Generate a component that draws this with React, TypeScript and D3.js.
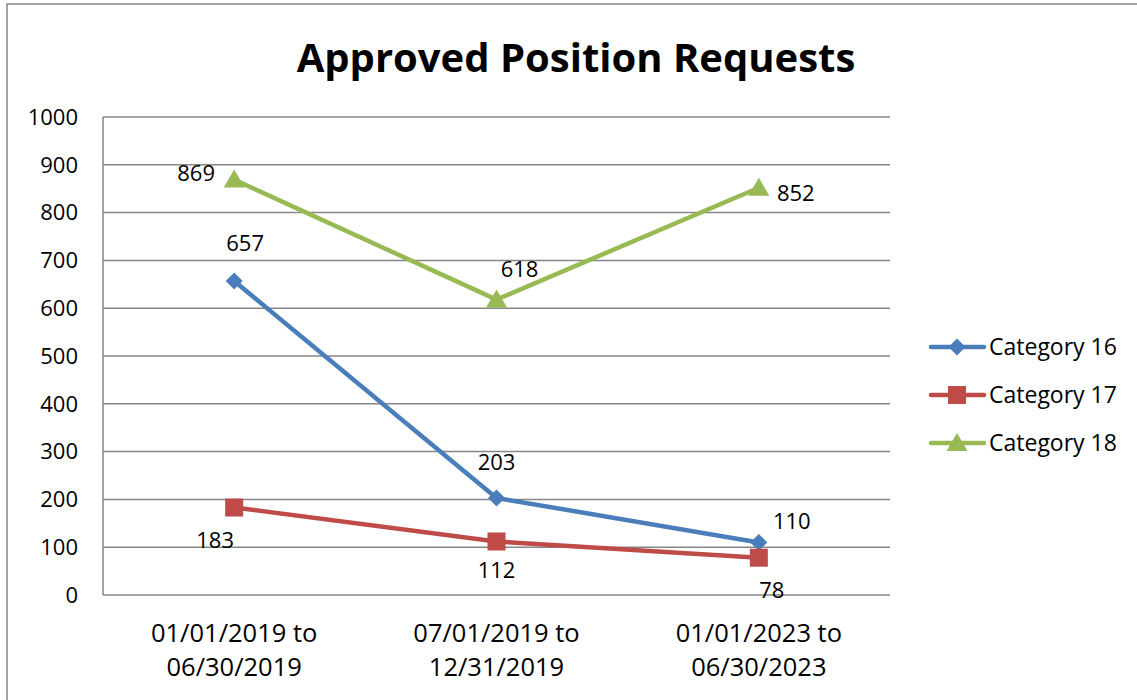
import React from "react";
import * as d3 from "d3";

const categories = [
  ["01/01/2019 to", "06/30/2019"],
  ["07/01/2019 to", "12/31/2019"],
  ["01/01/2023 to", "06/30/2023"],
];
const seriesNames = ["Category 16", "Category 17", "Category 18"];
const category16 = [657, 203, 110];
const category17 = [183, 112, 78];
const category18 = [869, 618, 852];
const yTicks = [0, 100, 200, 300, 400, 500, 600, 700, 800, 900, 1000];

const seriesValues = [category16, category17, category18];
const colors = ["#4A7EBB", "#BE4B48", "#98B954"];
const markers = ["diamond", "square", "triangle"];
// label offsets (dx, dy) relative to each point
const labelOffsets = [
  [[11, -38], [0, -36], [33, -21]],
  [[-19, 33], [0, 29], [13, 33]],
  [[-38, -6], [23, -30], [37, 6]],
];

const W = 1137, H = 700;
const plot = { left: 103, right: 890, top: 117, bottom: 595 };
const font = "'Open Sans', 'Noto Sans', sans-serif";

function Marker({ type, x, y, color }: { type: string; x: number; y: number; color: string }) {
  if (type === "diamond") {
    const s = 8.5;
    return <path d={`M${x},${y - s}L${x + s},${y}L${x},${y + s}L${x - s},${y}Z`} fill={color} />;
  }
  if (type === "square") {
    const s = 9;
    return <rect x={x - s} y={y - s} width={2 * s} height={2 * s} fill={color} />;
  }
  const s = 10;
  return <path d={`M${x},${y - s}L${x + s * 1.05},${y + s * 0.8}L${x - s * 1.05},${y + s * 0.8}Z`} fill={color} />;
}

export default function App() {
  const x = d3.scalePoint<number>().domain([0, 1, 2]).range([plot.left, plot.right]).padding(0.5);
  const y = d3.scaleLinear().domain([0, 1000]).range([plot.bottom, plot.top]);
  const line = d3.line<number>().x((_, i) => x(i)!).y((d) => y(d));

  return (
    <svg width={W} height={H} style={{ position: "absolute", left: 0, top: 0 }}>
      <rect x={0} y={0} width={W} height={H} fill="#fff" />
      <rect x={7} y={4} width={W + 10} height={H + 10} fill="none" stroke="#868686" strokeWidth={1.5} />
      <text x={576} y={72} textAnchor="middle" fontFamily={font} fontWeight="bold" fontSize={40} fill="#000">
        Approved Position Requests
      </text>
      {yTicks.map((t) => (
        <g key={t}>
          <line x1={plot.left} x2={plot.right} y1={y(t)} y2={y(t)} stroke="#868686" strokeWidth={1.5} />
          <text x={78} y={y(t)} dy="0.35em" textAnchor="end" fontFamily={font} fontSize={22} fill="#000">
            {t}
          </text>
        </g>
      ))}
      <line x1={plot.left} x2={plot.left} y1={plot.top} y2={plot.bottom} stroke="#868686" strokeWidth={1.5} />
      {categories.map((c, i) => (
        <text key={i} x={x(i)} y={642} textAnchor="middle" fontFamily={font} fontSize={25.5} fill="#000">
          <tspan x={x(i)}>{c[0]}</tspan>
          <tspan x={x(i)} dy={34}>{c[1]}</tspan>
        </text>
      ))}
      {seriesValues.map((vals, s) => (
        <g key={s}>
          <path d={line(vals)!} fill="none" stroke={colors[s]} strokeWidth={4.5} strokeLinejoin="round" />
          {vals.map((v, i) => (
            <Marker key={i} type={markers[s]} x={x(i)!} y={y(v)} color={colors[s]} />
          ))}
        </g>
      ))}
      {seriesValues.map((vals, s) =>
        vals.map((v, i) => (
          <text
            key={`${s}-${i}`}
            x={x(i)! + labelOffsets[s][i][0]}
            y={y(v) + labelOffsets[s][i][1]}
            dy="0.35em"
            textAnchor="middle"
            fontFamily={font}
            fontSize={22}
            fill="#000"
          >
            {v}
          </text>
        ))
      )}
      {seriesNames.map((n, s) => {
        const ly = 347 + s * 48;
        return (
          <g key={n}>
            <line x1={931} x2={984} y1={ly} y2={ly} stroke={colors[s]} strokeWidth={4.5} strokeLinecap="round" />
            <Marker type={markers[s]} x={957} y={ly} color={colors[s]} />
            <text x={989} y={ly} dy="0.35em" fontFamily={font} fontSize={23} fill="#000">
              {n}
            </text>
          </g>
        );
      })}
    </svg>
  );
}
